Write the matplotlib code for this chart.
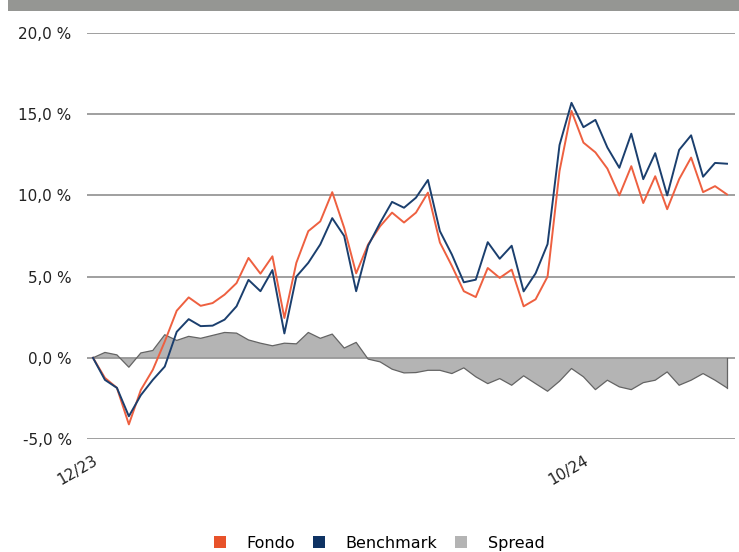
import matplotlib
matplotlib.use("Agg")
import matplotlib.pyplot as plt
from matplotlib.patches import Patch, Rectangle
from matplotlib.ticker import FuncFormatter, FixedLocator
import numpy as np

# ---- data (weekly, % cumulative) ----
fondo = [0, -1.24, -1.85, -4.1, -1.98, -0.74, 1.0, 2.9, 3.72, 3.2,
         3.37, 3.89, 4.6, 6.15, 5.18, 6.25, 2.45, 5.85, 7.8, 8.4,
         10.2, 8.0, 5.2, 6.98, 8.1, 8.94, 8.33, 8.94, 10.17, 7.1,
         5.66, 4.1, 3.74, 5.53, 4.92, 5.43, 3.17, 3.6, 5.0, 11.5,
         15.2, 13.25, 12.65, 11.65, 10.0, 11.8, 9.53, 11.18, 9.15, 11.0,
         12.33, 10.2, 10.57, 10.06]
benchmark = [0, -1.36, -1.85, -3.6, -2.3, -1.36, -0.54, 1.6, 2.38, 1.95,
             1.98, 2.35, 3.17, 4.8, 4.1, 5.4, 1.5, 5.0, 5.85, 6.98,
             8.6, 7.5, 4.1, 6.9, 8.31, 9.6, 9.24, 9.86, 10.95, 7.8,
             6.36, 4.65, 4.81, 7.12, 6.1, 6.9, 4.09, 5.2, 7.0, 13.1,
             15.7, 14.2, 14.65, 12.95, 11.7, 13.8, 11.0, 12.6, 10.0, 12.8,
             13.7, 11.15, 12.0, 11.95]
spread = [0, 0.33, 0.18, -0.58, 0.3, 0.45, 1.42, 1.07, 1.32, 1.2,
          1.38, 1.56, 1.52, 1.1, 0.9, 0.74, 0.9, 0.86, 1.56, 1.2,
          1.46, 0.6, 0.95, -0.08, -0.25, -0.7, -0.93, -0.91, -0.77, -0.77,
          -0.97, -0.62, -1.17, -1.59, -1.28, -1.69, -1.11, -1.59, -2.06, -1.44,
          -0.66, -1.17, -1.96, -1.38, -1.79, -1.96, -1.53, -1.38, -0.87, -1.69,
          -1.38, -0.97, -1.38, -1.85]
tick_positions = [0, 41]
tick_labels = ["12/23", "10/24"]
y_ticks = [-5, 0, 5, 10, 15, 20]
series_names = ["Fondo", "Benchmark", "Spread"]

c_fondo = "#ee6040"
c_bench = "#1b3f6e"
c_spread = "#b4b4b4"

x = np.arange(len(fondo))

fig = plt.figure(figsize=(7.39, 5.52), dpi=100)
W, H = 739, 552
# top grey band
fig.patches.append(Rectangle((8 / W, 1 - 11 / H), 1 - 8 / W, 11 / H,
                             transform=fig.transFigure, facecolor="#959693",
                             edgecolor="none"))

ax = fig.add_axes([87 / W, 1 - 439 / H, (735 - 87) / W, (439 - 33) / H])
ax.set_xlim(-0.5, len(fondo) - 1 + 8 / 11.96)
ax.set_ylim(-5, 20)

for s in ax.spines.values():
    s.set_visible(False)

ax.yaxis.set_major_locator(FixedLocator(y_ticks))
ax.yaxis.set_major_formatter(FuncFormatter(lambda v, p: f"{v:.1f}".replace(".", ",") + " %"))
ax.grid(axis="y", color="#979797", linewidth=1.3, zorder=0)
ax.tick_params(axis="y", length=0, pad=11, labelsize=11, labelcolor="#222222")

ax.xaxis.set_major_locator(FixedLocator(tick_positions))
ax.set_xticklabels(tick_labels)
ax.tick_params(axis="x", length=0, pad=10, labelsize=11, labelcolor="#222222")
for lab in ax.get_xticklabels():
    lab.set_rotation(30)
    lab.set_ha("right")
    lab.set_va("top")
    lab.set_rotation_mode("anchor")

ax.fill_between(x, 0, spread, facecolor=c_spread, edgecolor="none", zorder=1)
ax.plot(x, spread, color="#646464", linewidth=0.9, zorder=2)
ax.plot([x[-1], x[-1]], [0, spread[-1]], color="#646464", linewidth=0.9, zorder=2)
ax.plot(x, fondo, color=c_fondo, linewidth=1.4, zorder=3)
ax.plot(x, benchmark, color=c_bench, linewidth=1.4, zorder=4)

handles = [Patch(facecolor="#e8522a"), Patch(facecolor="#0e3263"), Patch(facecolor=c_spread)]
fig.legend(handles, series_names, loc="lower center", bbox_to_anchor=(0.513, -0.024),
           ncol=3, frameon=False, fontsize=11.5, handlelength=0.75, handleheight=0.75,
           handletextpad=1.3, columnspacing=1.1)

fig.savefig("out.png", dpi=100, facecolor="white")
